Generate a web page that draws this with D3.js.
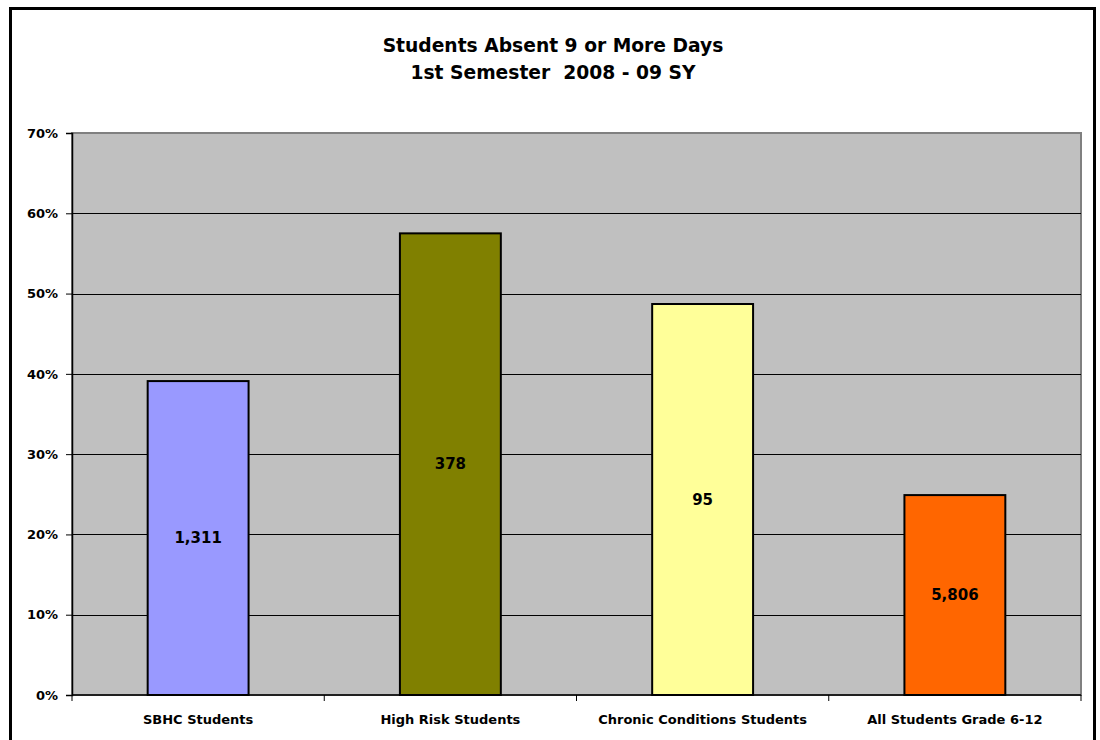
<!DOCTYPE html>
<html>
<head>
<meta charset="utf-8">
<script src="https://cdn.jsdelivr.net/npm/d3@7"></script>
<style>
  html, body { margin: 0; padding: 0; background: #fff; }
  svg { display: block; }
  text { font-family: "DejaVu Sans", "Verdana", sans-serif; font-weight: bold; fill: #000; white-space: pre; }
</style>
</head>
<body>
<svg id="chart" width="1100" height="740"></svg>
<script>
// Absence data, first semester 2008-09
const categories = ["SBHC Students", "High Risk Students", "Chronic Conditions Students", "All Students Grade 6-12"];
const percentAbsent = [0.391, 0.575, 0.487, 0.249];
const studentCounts = ["1,311", "378", "95", "5,806"];
const barColors = ["#9999FF", "#808000", "#FFFF99", "#FF6600"];
const yTicks = [0, 0.1, 0.2, 0.3, 0.4, 0.5, 0.6, 0.7];
const titleLines = ["Students Absent 9 or More Days", "1st Semester  2008 - 09 SY"];

const svg = d3.select("#chart");
const plot = { left: 72, top: 133, right: 1081, bottom: 695 };

// Outer frame (bottom runs off the canvas)
svg.append("rect")
  .attr("x", 10.5).attr("y", 8.5)
  .attr("width", 1084).attr("height", 760)
  .attr("fill", "#fff").attr("stroke", "#000").attr("stroke-width", 3);

// Title
svg.append("g").selectAll("text").data(titleLines).join("text")
  .attr("x", 553).attr("y", (d, i) => 52 + i * 27)
  .attr("text-anchor", "middle")
  .attr("font-size", 18.7)
  .text(d => d);

const x = d3.scaleBand().domain(categories)
  .range([plot.left, plot.right]).paddingInner(0.6).paddingOuter(0.3);
const xCat = d3.scaleBand().domain(categories).range([plot.left, plot.right]);
const y = d3.scaleLinear().domain([0, 0.7]).range([plot.bottom, plot.top]);

// Plot background
svg.append("rect")
  .attr("x", plot.left).attr("y", plot.top)
  .attr("width", plot.right - plot.left).attr("height", plot.bottom - plot.top)
  .attr("fill", "#C0C0C0").attr("stroke", "#808080").attr("stroke-width", 2);

// Horizontal gridlines
svg.append("g").selectAll("line").data(yTicks.filter(t => t > 0 && t < 0.7)).join("line")
  .attr("x1", plot.left).attr("x2", plot.right)
  .attr("y1", d => Math.round(y(d)) + 0.5).attr("y2", d => Math.round(y(d)) + 0.5)
  .attr("stroke", "#000").attr("stroke-width", 1);

// Bars
svg.append("g").selectAll("rect").data(categories).join("rect")
  .attr("x", d => x(d))
  .attr("y", (d, i) => y(percentAbsent[i]))
  .attr("width", x.bandwidth())
  .attr("height", (d, i) => y(0) - y(percentAbsent[i]))
  .attr("fill", (d, i) => barColors[i])
  .attr("stroke", "#000").attr("stroke-width", 2);

// Student count labels in the middle of each bar
svg.append("g").selectAll("text").data(categories).join("text")
  .attr("x", d => x(d) + x.bandwidth() / 2)
  .attr("y", (d, i) => (y(percentAbsent[i]) + y(0)) / 2)
  .attr("dy", "0.35em")
  .attr("text-anchor", "middle")
  .attr("font-size", 15)
  .text((d, i) => studentCounts[i]);

// Y axis
const yAxis = svg.append("g")
  .attr("transform", `translate(${plot.left},0)`)
  .call(d3.axisLeft(y).tickValues(yTicks).tickFormat(d3.format(".0%")).tickSize(6).tickPadding(8));
yAxis.select(".domain").attr("stroke", "#000").attr("stroke-width", 1.5);
yAxis.selectAll(".tick line").attr("stroke", "#000");
yAxis.selectAll(".tick text").attr("font-size", 13).attr("font-family", null);

// X axis: ticks at category boundaries, labels centred under each category
const xAxisG = svg.append("g").attr("transform", `translate(0,${plot.bottom})`);
xAxisG.append("line")
  .attr("x1", plot.left).attr("x2", plot.right)
  .attr("stroke", "#000").attr("stroke-width", 1.5);
const boundaries = categories.map(c => xCat(c)).concat([plot.right]);
xAxisG.selectAll("line.tk").data(boundaries).join("line").attr("class", "tk")
  .attr("x1", d => d).attr("x2", d => d)
  .attr("y1", 0).attr("y2", 6)
  .attr("stroke", "#000");
xAxisG.selectAll("text").data(categories).join("text")
  .attr("x", d => xCat(d) + xCat.bandwidth() / 2)
  .attr("y", 29)
  .attr("text-anchor", "middle")
  .attr("font-size", 13)
  .text(d => d);
</script>
</body>
</html>
